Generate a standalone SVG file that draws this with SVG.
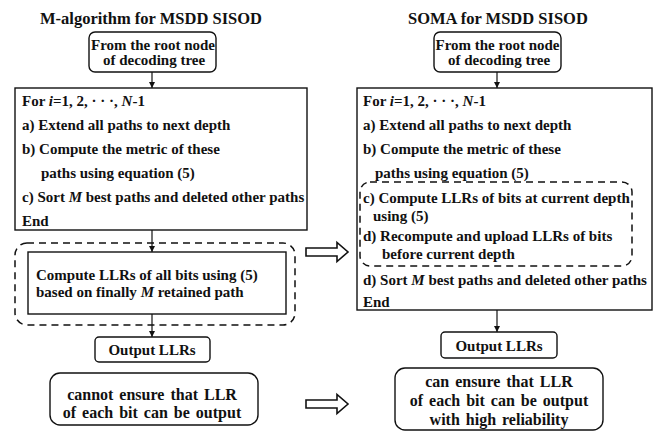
<svg xmlns="http://www.w3.org/2000/svg" width="660" height="432" viewBox="0 0 660 432">
<style>
text{font-family:"Liberation Serif","Times New Roman",serif;font-weight:bold;fill:#111;}
.t{font-size:16.5px;}
.b{font-size:15px;}
.c{font-size:16px;}
.m{text-anchor:middle;}
.box{fill:#fff;stroke:#111;stroke-width:1.4;}
.dash{fill:none;stroke:#111;stroke-width:1.5;stroke-dasharray:7 5;}
.ln{stroke:#111;stroke-width:1.2;fill:none;}
.hol{fill:#fff;stroke:#111;stroke-width:1.6;stroke-linejoin:miter;}
.i{font-style:italic;}
</style>
<defs>
<marker id="ah" markerUnits="userSpaceOnUse" markerWidth="6" markerHeight="6" refX="6" refY="3" orient="auto">
<path d="M0,0 L6,3 L0,6 z" fill="#111"/>
</marker>
</defs>
<rect width="660" height="432" fill="#fff"/>

<text class="t" x="40" y="24">M-algorithm  for MSDD SISOD</text>
<text class="t" x="408" y="24">SOMA for MSDD SISOD</text>

<g id="connectors">
<line class="ln" x1="152" y1="72" x2="152" y2="88" marker-end="url(#ah)"/>
<line class="ln" x1="152" y1="230" x2="152" y2="252" marker-end="url(#ah)"/>
<line class="ln" x1="152" y1="314" x2="152" y2="337" marker-end="url(#ah)"/>
<line class="ln" x1="497" y1="72" x2="497" y2="88" marker-end="url(#ah)"/>
<line class="ln" x1="497" y1="310" x2="497" y2="332" marker-end="url(#ah)"/>
<path class="hol" d="M306,248 H337 V242.5 L348,252 L337,261.5 V256 H306 Z"/>
<path class="hol" d="M306,400 H337 V394.5 L348,404 L337,413.5 V408 H306 Z"/>
</g>

<g id="left-root">
<rect class="box" x="89" y="32" width="127" height="40" rx="6"/>
<text class="b m" x="153" y="50">From the root node</text>
<text class="b m" x="154" y="65">of decoding tree</text>
</g>

<g id="left-loop">
<rect class="box" x="15" y="88" width="292" height="142"/>
<text class="b" x="22" y="106">For <tspan class="i">i</tspan>=1, 2, · · ·, <tspan class="i">N</tspan>-1</text>
<text class="b" x="22" y="130">a) Extend all paths to next depth</text>
<text class="b" x="22" y="154">b) Compute the metric of these</text>
<text class="b" x="41" y="178">paths using equation (5)</text>
<text class="b" x="22" y="202">c) Sort <tspan class="i">M</tspan> best paths and deleted other paths</text>
<text class="b" x="22" y="226">End</text>
</g>

<g id="left-dashed">
<rect class="dash" x="15" y="243" width="280" height="82" rx="12"/>
</g>

<g id="left-compute">
<rect class="box" x="28" y="252" width="258" height="62"/>
<text class="b" x="36" y="280">Compute LLRs of all bits using (5)</text>
<text class="b" x="36" y="297">based  on finally <tspan class="i">M</tspan> retained path</text>
</g>

<g id="left-output">
<rect class="box" x="95" y="337" width="115" height="25" rx="4"/>
<text class="b m" x="152" y="355">Output LLRs</text>
</g>

<g id="left-note">
<rect class="box" x="50" y="373" width="208" height="52" rx="10"/>
<text class="c m" x="152" y="400" word-spacing="2">cannot ensure that  LLR</text>
<text class="c m" x="152" y="418" word-spacing="2">of each bit can be output</text>
</g>

<g id="right-root">
<rect class="box" x="434" y="32" width="127" height="40" rx="6"/>
<text class="b m" x="497.5" y="50">From the root node</text>
<text class="b m" x="499" y="65">of decoding tree</text>
</g>

<g id="right-loop">
<rect class="box" x="357" y="88" width="295" height="222"/>
<text class="b" x="363" y="106">For <tspan class="i">i</tspan>=1, 2, · · ·, <tspan class="i">N</tspan>-1</text>
<text class="b" x="363" y="130">a) Extend all paths to next depth</text>
<text class="b" x="363" y="154">b) Compute the metric of these</text>
<text class="b" x="375" y="178">paths using equation (5)</text>
<text class="b" x="363" y="203">c) Compute LLRs of bits at current depth</text>
<text class="b" x="373" y="221">using (5)</text>
<text class="b" x="363" y="241">d) Recompute and upload LLRs of bits</text>
<text class="b" x="382" y="259">before current depth</text>
<text class="b" x="363" y="285">d) Sort <tspan class="i">M</tspan> best paths and deleted other paths</text>
<text class="b" x="363" y="307">End</text>
</g>

<g id="right-dashed">
<rect class="dash" x="360" y="182" width="272" height="84" rx="10"/>
</g>

<g id="right-output">
<rect class="box" x="441" y="332" width="116" height="26" rx="4"/>
<text class="b m" x="499" y="351">Output LLRs</text>
</g>

<g id="right-note">
<rect class="box" x="395" y="368" width="208" height="62" rx="10"/>
<text class="c m" x="499" y="387" word-spacing="2">can ensure that  LLR</text>
<text class="c m" x="499" y="406" word-spacing="2">of each bit can be output</text>
<text class="c m" x="499" y="425" word-spacing="2">with high reliability</text>
</g>
</svg>
